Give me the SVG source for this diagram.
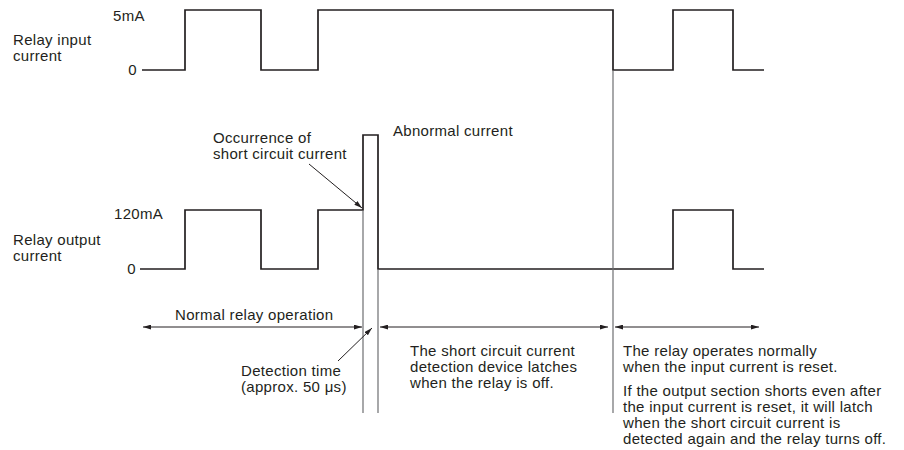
<svg xmlns="http://www.w3.org/2000/svg" width="904" height="450" viewBox="0 0 904 450">
<defs>
<style>
text{font-family:"Liberation Sans",Arial,sans-serif;font-size:15px;fill:#231f20;letter-spacing:0.3px}
.wave{fill:none;stroke:#231f20;stroke-width:1.7;stroke-linejoin:miter}
.guide{fill:none;stroke:#6d6e71;stroke-width:1.2}
.dim{fill:none;stroke:#231f20;stroke-width:1}
</style>
<marker id="ah" viewBox="0 0 10 6" refX="10" refY="3" markerWidth="8" markerHeight="5" markerUnits="userSpaceOnUse" orient="auto-start-reverse">
<path d="M0,0 L10,3 L0,6 Z" fill="#231f20"/>
</marker>
</defs>
<rect width="904" height="450" fill="#fff"/>

<g id="input-signal">
<text x="13" y="45">Relay input</text>
<text x="13" y="61">current</text>
<text x="113" y="21">5mA</text>
<text x="137" y="75" text-anchor="end">0</text>
<path class="wave" d="M142,70 H185 V10 H261 V70 H318 V10 H613 V70 H673 V10 H733 V70 H764"/>
</g>

<g id="output-signal">
<text x="13" y="245">Relay output</text>
<text x="13" y="261">current</text>
<text x="114" y="219">120mA</text>
<text x="136" y="274" text-anchor="end">0</text>
<path class="wave" d="M140,269 H185 V210 H261 V269 H318 V210 H363 V135 H378 V269 H673 V210 H733 V269 H764"/>
</g>

<g id="guides">
<line class="guide" x1="363" y1="211" x2="363" y2="413"/>
<line class="guide" x1="378" y1="270" x2="378" y2="413"/>
<line class="guide" x1="613" y1="71" x2="613" y2="413"/>
</g>

<g id="connectors">
<line class="dim" x1="143" y1="327" x2="362" y2="327" marker-start="url(#ah)" marker-end="url(#ah)"/>
<line class="dim" x1="380" y1="327" x2="608" y2="327" marker-start="url(#ah)" marker-end="url(#ah)"/>
<line class="dim" x1="615" y1="327" x2="759" y2="327" marker-start="url(#ah)" marker-end="url(#ah)"/>
<line class="dim" x1="309" y1="164" x2="362" y2="208" marker-end="url(#ah)"/>
<line class="dim" x1="338" y1="361" x2="372" y2="328" marker-end="url(#ah)"/>
</g>

<g id="label-occurrence">
<text x="213" y="143">Occurrence of</text>
<text x="213" y="159">short circuit current</text>
</g>

<g id="label-abnormal">
<text x="393" y="136">Abnormal current</text>
</g>

<g id="label-normal">
<text x="175" y="320">Normal relay operation</text>
</g>

<g id="label-detection">
<text x="241" y="376">Detection time</text>
<text x="241" y="392">(approx. 50 μs)</text>
</g>

<g id="label-latch">
<text x="410" y="356">The short circuit current</text>
<text x="410" y="372">detection device latches</text>
<text x="410" y="388">when the relay is off.</text>
</g>

<g id="label-reset">
<text x="623" y="356">The relay operates normally</text>
<text x="623" y="372">when the input current is reset.</text>
<text x="623" y="396">If the output section shorts even after</text>
<text x="623" y="412">the input current is reset, it will latch</text>
<text x="623" y="428">when the short circuit current is</text>
<text x="623" y="444">detected again and the relay turns off.</text>
</g>
</svg>
